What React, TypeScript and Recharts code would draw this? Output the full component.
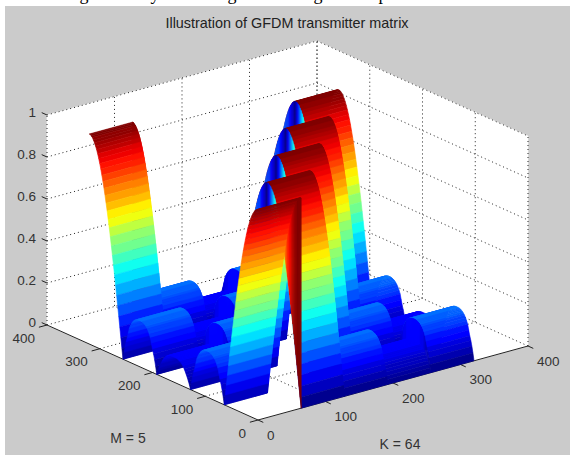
import React from "react";
import { ScatterChart, Scatter, XAxis, YAxis, ReferenceArea } from "recharts";

const W = 570;
const H = 455;
const TITLE = "Illustration of GFDM transmitter matrix";
const K_LABEL = "K = 64";
const M_LABEL = "M = 5";
const K_TICKS = [0, 100, 200, 300, 400];
const M_TICKS = [0, 100, 200, 300, 400];
const Z_TICKS = [0, 0.2, 0.4, 0.6, 0.8, 1];
const BLOCK_STARTS = [0, 64, 128, 192, 256];
const BLOCK_WIDTH = 64;
const M_STEP = 2;
// height of the pulse against distance from its centre, every 2 samples
const MAIN_LOBE = [
  1.0, 1.0, 0.995, 0.99, 0.98, 0.97, 0.957, 0.942, 0.924, 0.904, 0.882, 0.858, 0.831, 0.803, 0.773, 0.741, 0.707,
  0.672, 0.634, 0.596, 0.556, 0.514, 0.471, 0.427, 0.383, 0.337, 0.29, 0.243, 0.195, 0.147, 0.098, 0.049, 0,
];
// height of the tall arch next to a pulse, every 2 samples
const SIDE_LOBE = [
  0, 0.035, 0.065, 0.09, 0.11, 0.135, 0.16, 0.175, 0.187, 0.197, 0.204, 0.21, 0.214, 0.217, 0.219, 0.22, 0.22,
  0.22, 0.219, 0.217, 0.214, 0.21, 0.204, 0.197, 0.187, 0.175, 0.16, 0.135, 0.11, 0.09, 0.065, 0.035, 0,
];
// height of the low arch farthest from a pulse, every 2 samples
const FAR_LOBE = [
  0, 0.02, 0.035, 0.05, 0.062, 0.074, 0.085, 0.094, 0.101, 0.107, 0.111, 0.115, 0.117, 0.119, 0.12, 0.12, 0.12,
  0.12, 0.12, 0.119, 0.117, 0.115, 0.111, 0.107, 0.101, 0.094, 0.085, 0.074, 0.062, 0.05, 0.035, 0.02, 0,
];
const ARCH_ORDER = [SIDE_LOBE, FAR_LOBE, SIDE_LOBE];
const DOCUMENT_TAILS: [string, number][] = [
  ["g", 84],
  ["y", 155],
  ["g", 232],
  ["g", 318],
  ["p", 383],
];

type P = { px: number; py: number };
const project = (k: number, m: number, z: number): P => ({
  px: 258 + 0.675 * k - 0.5275 * m,
  py: 420 - 0.185 * k - 0.2375 * m - 210 * z,
});

const height = (start: number, m: number) => {
  const d = (m - start + 320) % 320;
  if (d <= BLOCK_WIDTH) return MAIN_LOBE[Math.round(d / M_STEP)];
  if (d >= 256) return MAIN_LOBE[Math.round((320 - d) / M_STEP)];
  const arch = ARCH_ORDER[Math.floor((d - 64) / 64)];
  return arch[Math.round(((d - 64) % 64) / M_STEP)];
};

const jet = (z: number) => {
  const level = Math.min(63, Math.floor(z * 64));
  const t = (level + 1) / 64;
  const ramp = (c: number) => Math.max(0, Math.min(1, 1.5 - Math.abs(4 * t - c)));
  return `rgb(${Math.round(255 * ramp(3))},${Math.round(255 * ramp(2))},${Math.round(255 * ramp(1))})`;
};

type Quad = P & { pts: P[]; fill: string };
const makeQuad = (pts: P[], fill: string): Quad => ({
  px: pts[0].px,
  py: pts[0].py,
  pts,
  fill,
});

const buildSurface = () => {
  const quads: Quad[] = [];
  for (let b = BLOCK_STARTS.length - 1; b >= 0; b--) {
    const start = BLOCK_STARTS[b];
    const end = start + BLOCK_WIDTH;
    for (let m = 320 - M_STEP; m >= 0; m -= M_STEP) {
      const z0 = height(start, m);
      const z1 = height(start, m + M_STEP);
      quads.push(
        makeQuad(
          [project(start, m, z0), project(end, m, z0), project(end, m + M_STEP, z1), project(start, m + M_STEP, z1)],
          jet(z0),
        ),
      );
    }
    if (b > 0) {
      const prev = BLOCK_STARTS[b - 1];
      for (let m = 320 - M_STEP; m >= 0; m -= M_STEP) {
        const a0 = height(prev, m);
        const a1 = height(prev, m + M_STEP);
        const c0 = height(start, m);
        const c1 = height(start, m + M_STEP);
        quads.push(
          makeQuad(
            [project(start, m, a0), project(start, m, c0), project(start, m + M_STEP, c1), project(start, m + M_STEP, a1)],
            jet(a0),
          ),
        );
      }
    }
  }
  return quads;
};

const walls: Quad[] = [
  makeQuad([project(0, 0, 0), project(400, 0, 0), project(400, 400, 0), project(0, 400, 0)], "#fff"),
  makeQuad([project(0, 400, 0), project(400, 400, 0), project(400, 400, 1), project(0, 400, 1)], "#fff"),
  makeQuad([project(400, 0, 0), project(400, 400, 0), project(400, 400, 1), project(400, 0, 1)], "#fff"),
];

const gridLines: P[][] = [];
K_TICKS.forEach((k) => {
  if (k > 0) gridLines.push([project(k, 0, 0), project(k, 400, 0), project(k, 400, 1)]);
});
M_TICKS.forEach((m) => {
  if (m > 0) gridLines.push([project(0, m, 0), project(400, m, 0), project(400, m, 1)]);
});
Z_TICKS.forEach((z) => {
  if (z > 0) gridLines.push([project(0, 400, z), project(400, 400, z), project(400, 0, z)]);
});
gridLines.push([project(0, 400, 0), project(0, 400, 1)]);
gridLines.push([project(400, 0, 0), project(400, 0, 1)]);

const axisLines: P[][] = [
  [project(0, 400, 0), project(0, 0, 0), project(400, 0, 0)],
  ...K_TICKS.map((k) => [project(k, 0, 0), project(k, -10, 0)]),
  ...M_TICKS.map((m) => [project(0, m, 0), project(-12, m, 0)]),
  ...Z_TICKS.map((z) => [project(0, 400, z), project(0, 410, z)]),
];

type Label = P & { text: string; anchor: string; size: number; color: string };
const offset = (p: P, dx: number, dy: number) => ({ px: p.px + dx, py: p.py + dy });
const labels: Label[] = [
  { px: 287, py: 23, text: TITLE, anchor: "middle", size: 14.4, color: "#222" },
  { px: 128, py: 438, text: M_LABEL, anchor: "middle", size: 14, color: "#333" },
  { px: 400, py: 444, text: K_LABEL, anchor: "middle", size: 14, color: "#333" },
  ...Z_TICKS.map((z) => ({
    ...offset(project(0, 400, z), -11, -3),
    text: String(z),
    anchor: "end",
    size: 13.5,
    color: "#333",
  })),
  ...M_TICKS.map((m) => ({
    ...offset(project(0, m, 0), -12, 13),
    text: String(m),
    anchor: "end",
    size: 13.5,
    color: "#333",
  })),
  ...K_TICKS.map((k) => ({
    ...offset(project(k, 0, 0), 9, 15),
    text: String(k),
    anchor: "start",
    size: 13.5,
    color: "#333",
  })),
];

const tails = DOCUMENT_TAILS.map(([text, px]) => ({ px, py: 0, text }));

const QuadShape = (props: any) => {
  const { cx, cy, payload } = props;
  const points = payload.pts
    .map((p: P) => `${(cx + p.px - payload.px).toFixed(2)},${(cy + p.py - payload.py).toFixed(2)}`)
    .join(" ");
  return <polygon points={points} fill={payload.fill} stroke={payload.fill} strokeWidth={0.6} />;
};

const LabelShape = (props: any) => {
  const { cx, cy, payload } = props;
  return (
    <text
      x={cx}
      y={cy}
      textAnchor={payload.anchor}
      dominantBaseline="central"
      fontFamily="Liberation Sans"
      fontSize={payload.size}
      fill={payload.color}
    >
      {payload.text}
    </text>
  );
};

const TailShape = (props: any) => {
  const { cx, cy, payload } = props;
  return (
    <text x={cx} y={cy} textAnchor="middle" fontFamily="Liberation Serif" fontSize={18} fill="#000">
      {payload.text}
    </text>
  );
};

const NoDot = () => <g />;
const surface = buildSurface();

export default function App() {
  return (
    <div style={{ position: "absolute", left: 0, top: 0 }}>
      <ScatterChart width={W} height={H} margin={{ top: 0, right: 0, bottom: 0, left: 0 }}>
        <XAxis type="number" dataKey="px" domain={[0, W]} hide />
        <YAxis type="number" dataKey="py" domain={[0, H]} reversed hide />
        <ReferenceArea x1={5} x2={W} y1={6} y2={H} fill="#cbcbcb" fillOpacity={1} stroke="none" />
        <Scatter data={tails} shape={TailShape} isAnimationActive={false} />
        <Scatter data={walls} shape={QuadShape} isAnimationActive={false} />
        {gridLines.map((line, i) => (
          <Scatter
            key={`g${i}`}
            data={line}
            shape={NoDot}
            line={{ stroke: "#222", strokeDasharray: "1 3", strokeWidth: 1 }}
            lineType="joint"
            isAnimationActive={false}
          />
        ))}
        {axisLines.map((line, i) => (
          <Scatter
            key={`a${i}`}
            data={line}
            shape={NoDot}
            line={{ stroke: "#222", strokeWidth: 1 }}
            lineType="joint"
            isAnimationActive={false}
          />
        ))}
        <Scatter data={surface} shape={QuadShape} isAnimationActive={false} />
        <Scatter data={labels} shape={LabelShape} isAnimationActive={false} />
      </ScatterChart>
    </div>
  );
}
